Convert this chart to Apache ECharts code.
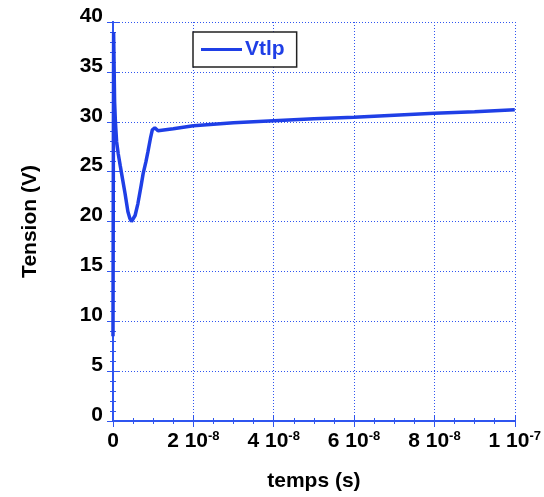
<!DOCTYPE html>
<html><head><meta charset="utf-8">
<script src="https://cdn.jsdelivr.net/npm/echarts@6/dist/echarts.min.js"></script>
<style>html,body{margin:0;padding:0;background:#fff}#c{width:544px;height:497px}</style>
</head><body><div id="c"></div>
<script>
// time in nanoseconds
const timeNs = [0, 0.15, 0.4, 0.6, 0.9, 1.3, 1.8, 2.4, 3.0, 3.7, 4.2, 4.6, 5.0, 5.5, 6.2, 7.0, 7.5, 8.2, 8.7, 9.3, 9.8, 10.4, 11.2, 15, 20, 30, 40, 50, 60, 70, 80, 90, 100];
const vtlp   = [8.5, 39, 32, 30, 28, 26.8, 25.6, 24.2, 22.8, 21.0, 20.3, 20.0, 20.1, 20.6, 21.8, 23.6, 24.8, 26.0, 27.0, 28.3, 29.2, 29.4, 29.1, 29.3, 29.6, 29.9, 30.1, 30.3, 30.45, 30.65, 30.85, 31.0, 31.2];
const xTickMant = ['0', '2 10', '4 10', '6 10', '8 10', '1 10'];
const xTickExp  = ['', '-8', '-8', '-8', '-8', '-7'];
const yTicks = [0, 5, 10, 15, 20, 25, 30, 35, 40];

const blue = '#1f3fe6';
const axisBlue = '#2f55f0';
const font = 'Liberation Sans';

const chart = echarts.init(document.getElementById('c'));
const tickStyle = { show: true, inside: true, length: 6, lineStyle: { color: axisBlue, width: 1 } };
const minorStyle = { show: true, length: 3, lineStyle: { color: axisBlue, width: 1 } };
chart.setOption({
  animation: false,
  grid: { left: 113, right: 29, top: 22, bottom: 74 },
  legend: {
    left: 193, top: 32, itemWidth: 41, itemHeight: 3, itemGap: 6,
    padding: [7, 12, 7, 8],
    backgroundColor: '#fff', borderColor: '#222', borderWidth: 1.5,
    textStyle: { color: blue, fontWeight: 'bold', fontSize: 21, fontFamily: font, padding: [0, 0, 0, -2] },
    icon: 'rect'
  },
  xAxis: [{
    type: 'value', min: 0, max: 100, interval: 20,
    name: 'temps (s)', nameLocation: 'middle', nameGap: 50,
    nameTextStyle: { fontSize: 21, fontWeight: 'bold', color: '#000', fontFamily: font },
    axisLine: { show: true, lineStyle: { color: axisBlue, width: 2 } },
    axisTick: tickStyle, minorTick: Object.assign({ splitNumber: 4 }, minorStyle),
    splitLine: { show: true, lineStyle: { color: axisBlue, type: [1, 2], width: 1 } },
    axisLabel: {
      margin: 9,
      formatter: function (v) {
        const i = Math.round(v / 20);
        if (!xTickExp[i]) return '{m|' + xTickMant[i] + '}';
        return '{m|' + xTickMant[i] + '}{e|' + xTickExp[i] + '}';
      },
      rich: {
        m: { fontSize: 21, fontWeight: 'bold', color: '#000', fontFamily: font, lineHeight: 22 },
        e: { fontSize: 13, fontWeight: 'bold', color: '#000', fontFamily: font, verticalAlign: 'top', padding: [0, 0, 10, 0], lineHeight: 22 }
      }
    }
  }, {
    type: 'value', min: 0, max: 100, interval: 20, position: 'top',
    axisLine: { show: true, lineStyle: { color: axisBlue, width: 2 } },
    axisTick: tickStyle, minorTick: Object.assign({ splitNumber: 4 }, minorStyle),
    axisLabel: { show: false }, splitLine: { show: false }
  }],
  yAxis: [{
    type: 'value', min: 0, max: 40, interval: 5,
    name: 'Tension (V)', nameLocation: 'middle', nameGap: 72, nameRotate: 90,
    nameTextStyle: { fontSize: 21, fontWeight: 'bold', color: '#000', fontFamily: font },
    axisLine: { show: true, lineStyle: { color: axisBlue, width: 2 } },
    axisTick: tickStyle, minorTick: Object.assign({ splitNumber: 5 }, minorStyle),
    splitLine: { show: true, lineStyle: { color: axisBlue, type: [1, 2], width: 1 } },
    axisLabel: {
      margin: 10, fontSize: 21, fontWeight: 'bold', color: '#000', fontFamily: font,
      verticalAlign: 'bottom', lineHeight: 12,
      formatter: function (v) { return yTicks.indexOf(v) >= 0 ? String(v) : ''; }
    }
  }, {
    type: 'value', min: 0, max: 40, interval: 5, position: 'right',
    axisLine: { show: true, lineStyle: { color: axisBlue, width: 2 } },
    axisTick: tickStyle, minorTick: Object.assign({ splitNumber: 5 }, minorStyle),
    axisLabel: { show: false }, splitLine: { show: false }
  }],
  series: [{
    name: 'Vtlp', type: 'line', showSymbol: false, symbol: 'none',
    lineStyle: { color: blue, width: 3.5 }, itemStyle: { color: blue },
    data: timeNs.map((t, i) => [t, vtlp[i]])
  }]
});
</script></body></html>
